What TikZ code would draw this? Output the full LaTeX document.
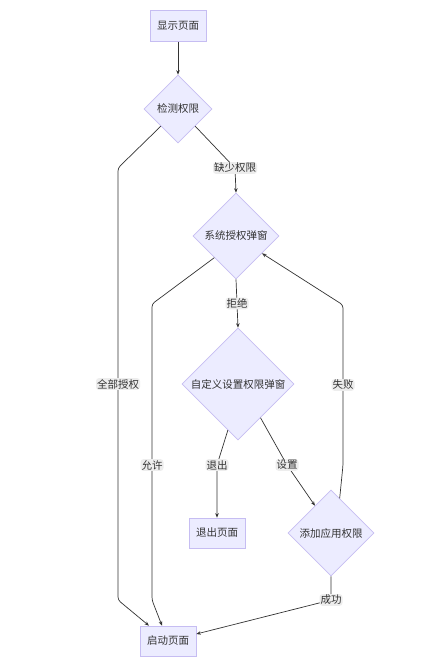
\documentclass[tikz,border=0pt]{standalone}
\usepackage{fontspec}
\setmainfont{Noto Sans CJK SC}
\usetikzlibrary{shapes.geometric,arrows.meta,calc}
\definecolor{nodefill}{HTML}{ECECFF}
\definecolor{nodeborder}{HTML}{C6BDF2}
\definecolor{edgecol}{HTML}{333333}
\definecolor{txtcol}{HTML}{333333}
\definecolor{lblfill}{HTML}{EDEDED}
\begin{document}
\begin{tikzpicture}[x=1pt,y=-1pt,
  every node/.style={font=\fontsize{10.5}{12}\selectfont, text=txtcol},
  procbox/.style={rectangle, draw=nodeborder, fill=nodefill, line width=0.6pt, minimum height=31pt, inner xsep=7pt},
  decbox/.style={diamond, aspect=1, draw=nodeborder, fill=nodefill, line width=0.6pt, inner sep=0pt},
  flow/.style={draw=edgecol, line width=0.7pt, rounded corners=3pt, -{Stealth[length=4.5pt,width=3.5pt]}},
  lbl/.style={fill=lblfill, inner sep=1pt}
]
\useasboundingbox (0,0) rectangle (444,668);
\fill[white] (0,0) rectangle (444,668);

\node[procbox] (show) at (178,26) {显示页面};
\node[decbox, minimum size=68pt] (check) at (178,109) {检测权限};
\node[decbox, minimum size=86pt] (sys) at (236,236) {系统授权弹窗};
\node[decbox, minimum size=112pt] (cust) at (238,384) {自定义设置权限弹窗};
\node[procbox, minimum height=30pt] (quit) at (217,533) {退出页面};
\node[decbox, minimum size=86pt] (add) at (331,533) {添加应用权限};
\node[procbox, minimum height=30pt] (start) at (168,641) {启动页面};

\coordinate (a1) at (118,168);
\coordinate (a2) at (118,600);
\coordinate (b1) at (235,168);
\coordinate (c1) at (152,304);
\coordinate (c2) at (152,600);
\coordinate (d1) at (217,465);
\coordinate (e1) at (287,465);
\coordinate (f1) at (343,465);
\coordinate (f2) at (343,305);
\coordinate (g1) at (331,600);

\draw[flow] (show) -- (check);
\draw[flow] (check.south west) -- (a1) -- node[lbl]{全部授权} (a2) -- ([xshift=-19pt]start.north);
\draw[flow] (check.south east) -- (b1) node[lbl]{缺少权限} -- (sys.north);
\draw[flow] (sys.south west) -- (c1) -- node[lbl, pos=0.544]{允许} (c2) -- ([xshift=-6pt]start.north);
\draw[flow] (sys.south) -- node[lbl]{拒绝} (cust.north);
\draw[flow] ($(cust.south)!0.18!(cust.west)$) -- (d1) node[lbl]{退出} -- (quit.north);
\draw[flow] ($(cust.south)!0.4!(cust.east)$) -- (e1) node[lbl]{设置} -- ($(add.north)!0.37!(add.west)$);
\draw[flow] ($(add.north)!0.2!(add.east)$) -- (f1) -- node[lbl]{失败} (f2) -- ($(sys.east)!0.4!(sys.south)$);
\draw[flow] (add.south) -- (g1) node[lbl]{成功} -- ([yshift=7pt]start.east);
\end{tikzpicture}
\end{document}
